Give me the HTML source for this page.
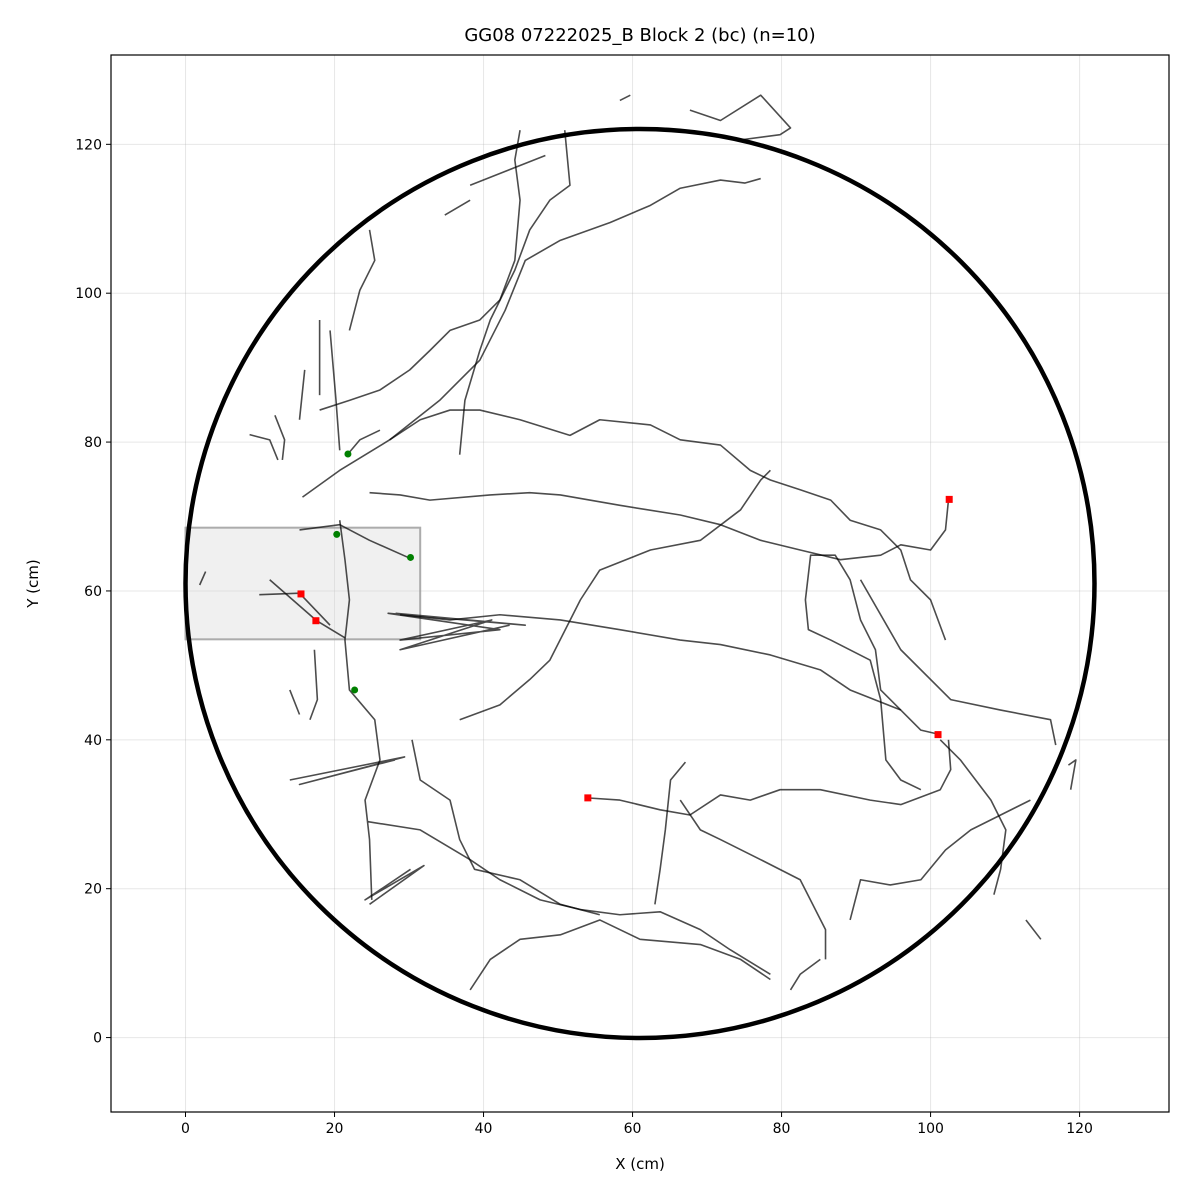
<!DOCTYPE html>
<html><head><meta charset="utf-8"><style>
html,body{margin:0;padding:0;background:#fff;}
svg{display:block;font-family:"DejaVu Sans","Liberation Sans",sans-serif;}
</style></head><body>
<svg id="chart" width="1200" height="1200" viewBox="0 0 1200 1200"></svg>
<script>
const xTicks=[0,20,40,60,80,100,120];
const yTicks=[0,20,40,60,80,100,120];
const arena={cx:61,cy:61,r:61};
const zone={x0:0,x1:31.5,y0:53.5,y1:68.5};
const startPoints=[[21.8,78.4],[20.3,67.6],[30.2,64.5],[22.7,46.7]];
const endPoints=[[15.5,59.6],[17.5,56],[54,32.2],[101,40.7],[102.5,72.3]];
const tracks=[
[[15.7,72.6],[20.7,76.2],[27.4,80.3],[34.1,85.6],[39.5,91],[42.9,97.7],[45.6,104.4],[50.3,107.1],[57,109.5],[62.4,111.8],[66.4,114.1],[71.8,115.2],[75.1,114.8],[77.2,115.4]],
[[18,84.3],[22,85.6],[26.1,87],[30.1,89.7],[32.8,92.3],[35.5,95],[39.5,96.4],[42.2,99.1],[44.2,104.4],[44.9,112.5],[44.2,117.9],[44.9,121.9]],
[[36.8,78.3],[37.5,85.6],[39.5,92.3],[40.9,96.4],[44.2,103.1],[46.2,108.5],[48.9,112.5],[51.6,114.5],[50.9,121.9]],
[[27.4,80.3],[31.5,83],[35.5,84.3],[39.5,84.3],[44.9,83],[51.6,80.9],[55.6,83],[62.4,82.3],[66.4,80.3],[71.8,79.6],[75.8,76.2],[78.5,74.9],[82.5,73.6],[86.6,72.2],[89.2,69.5],[93.3,68.2],[96,65.5],[97.3,61.5],[100,58.8],[102,53.4]],
[[24.7,73.2],[28.8,72.9],[32.8,72.2],[40.9,72.9],[46.2,73.2],[50.3,72.9],[58.3,71.5],[66.4,70.2],[71.8,68.9],[77.2,66.8],[82.5,65.5],[87.9,64.2],[93.3,64.8],[96,66.2],[100,65.5],[102,68.2],[102.4,72.2]],
[[28.8,56.8],[35.5,56.1],[42.2,56.8],[50.3,56.1],[58.3,54.8],[66.4,53.4],[71.8,52.8],[78.5,51.4],[85.2,49.4],[89.2,46.7],[96,44],[98.7,41.3],[101.3,40.7]],
[[36.8,42.7],[42.2,44.7],[46.2,48.1],[48.9,50.7],[53,58.8],[55.6,62.8],[62.4,65.5],[69.1,66.8],[74.5,70.9],[77.2,74.9],[78.5,76.2]],
[[53.9,32.2],[58.3,31.9],[63.7,30.6],[67.7,29.9],[71.8,32.6],[75.8,31.9],[79.8,33.3],[85.2,33.3],[91.9,31.9],[96,31.3],[101.3,33.3],[102.7,36],[102.4,40]],
[[66.4,31.9],[69.1,27.9],[71.8,26.6],[77.2,23.9],[82.5,21.2],[85.9,14.5],[85.9,10.5]],
[[67.1,37],[65.1,34.6],[64.4,27.9],[63.7,22.6],[63,17.9]],
[[20.7,69.5],[21.4,64.2],[22,58.8],[21.4,53.4],[22,46.7],[25.4,42.7],[26.1,37.3],[24.1,31.9],[24.7,26.6],[25,18.5]],
[[24.5,29],[31.5,27.9],[38.2,23.9],[42.2,21.2],[47.6,18.5],[53,17.2],[58.3,16.5],[63.7,16.9],[69.1,14.5],[73.1,11.8],[78.5,8.5]],
[[30.4,40],[31.5,34.6],[35.5,31.9],[36.8,26.6],[38.8,22.6],[44.9,21.2],[50.3,17.9],[55.6,16.5]],
[[38.2,6.4],[40.9,10.5],[44.9,13.2],[50.3,13.8],[55.6,15.8],[61,13.2],[69.1,12.5],[74.5,10.5],[78.5,7.8]],
[[85.2,10.5],[82.5,8.5],[81.2,6.4]],
[[101.3,40],[104,37.3],[108.1,31.9],[110.1,27.9],[109.4,22.6],[108.5,19.2]],
[[96,44],[93.3,46.7],[92.6,52.1],[90.6,56.1],[89.2,61.5],[87.2,64.8],[83.9,64.8],[83.2,58.8],[83.6,54.8],[86.6,53.4],[91.9,50.7],[93.3,45.4],[94,37.3],[96,34.6],[98.7,33.3]],
[[90.6,61.5],[96,52.1],[102.7,45.4],[109.4,44],[116.1,42.7],[116.8,39.3]],
[[89.2,15.8],[90.6,21.2],[94.6,20.5],[98.7,21.2],[102,25.2],[105.4,27.9],[113.4,31.9]],
[[67.7,124.6],[71.8,123.2],[77.2,126.6],[81.2,122.2],[79.8,121.3],[74.5,120.6]],
[[24.7,108.5],[25.4,104.4],[23.4,100.4],[22,95]],
[[19.4,95],[20.2,85.6],[20.7,78.9]],
[[18,96.4],[18,86.3]],
[[21.8,78.4],[23.4,80.3],[26.1,81.6]],
[[15.3,68.2],[20.7,68.9],[24.7,66.8],[30.1,64.4]],
[[11.3,61.5],[17.6,56],[21.4,53.7]],
[[9.9,59.5],[15.3,59.7],[19.4,55.4]],
[[28.2,57],[45.6,55.4],[27.2,57],[42.2,54.8],[28.8,53.4],[41.1,56.1],[28.8,52.1],[43.5,55.4]],
[[14,34.6],[29.4,37.7],[15.3,34],[28.1,37.3]],
[[24.7,17.9],[32,23.1],[24.1,18.5],[30.2,22.6]],
[[112.8,15.8],[114.8,13.2]],
[[118.5,36.6],[119.5,37.3],[118.8,33.3]],
[[12,83.6],[13.3,80.3],[13,77.6]],
[[16,89.7],[15.3,83]],
[[8.6,81],[11.3,80.3],[12.4,77.6]],
[[17.3,52.1],[17.7,45.4],[16.7,42.7]],
[[14,46.7],[15.3,43.4]],
[[2.7,62.6],[1.9,60.8]],
[[58.3,125.9],[59.7,126.6]],
[[38.2,114.5],[48.3,118.5]],
[[34.8,110.5],[38.2,112.5]]
];
const L=111,R=1169,T=55,B=1112,min=-10,max=132;
const sx=v=>L+(v-min)/(max-min)*(R-L);
const sy=v=>B-(v-min)/(max-min)*(B-T);
const NS="http://www.w3.org/2000/svg";
const svg=document.getElementById('chart');
function mk(t,a,p){const e=document.createElementNS(NS,t);for(const k in a)e.setAttribute(k,a[k]);(p||svg).appendChild(e);return e;}
xTicks.forEach(v=>{const e=mk('line',{x1:sx(v),x2:sx(v),y1:T,y2:B,stroke:'#b0b0b0','stroke-opacity':0.3,'stroke-width':1});

});
yTicks.forEach(v=>{const e=mk('line',{x1:L,x2:R,y1:sy(v),y2:sy(v),stroke:'#b0b0b0','stroke-opacity':0.3,'stroke-width':1});

});
const z=mk('rect',{x:sx(zone.x0),y:sy(zone.y1),width:sx(zone.x1)-sx(zone.x0),height:sy(zone.y0)-sy(zone.y1),fill:'#d3d3d3','fill-opacity':0.35,stroke:'#999','stroke-width':2,'stroke-opacity':0.8});


tracks.forEach(t=>{const p=mk('polyline',{points:t.map(q=>sx(q[0])+','+sy(q[1])).join(' '),fill:'none',stroke:'#000','stroke-opacity':0.7,'stroke-width':1.6,'stroke-linejoin':'round'});

});
const c=mk('circle',{cx:sx(arena.cx),cy:sy(arena.cy),r:sx(arena.r)-sx(0),fill:'none',stroke:'#000','stroke-width':4.5});


startPoints.forEach(p=>{const e=mk('circle',{cx:sx(p[0]),cy:sy(p[1]),r:3.5,fill:'#008000'});

});
endPoints.forEach(p=>{const e=mk('rect',{x:sx(p[0])-3.5,y:sy(p[1])-3.5,width:7,height:7,fill:'#ff0000'});

});
const f=mk('rect',{x:L,y:T,width:R-L,height:B-T,fill:'none',stroke:'#000','stroke-width':1.2});


xTicks.forEach(v=>{mk('line',{x1:sx(v),x2:sx(v),y1:B,y2:B+5,stroke:'#000'});
const t=mk('text',{x:sx(v),y:B+21,'text-anchor':'middle','font-size':14});t.textContent=v;

});
yTicks.forEach(v=>{mk('line',{x1:L-5,x2:L,y1:sy(v),y2:sy(v),stroke:'#000'});
const t=mk('text',{x:L-9,y:sy(v)+5,'text-anchor':'end','font-size':14});t.textContent=v;

});
const xt=mk('text',{x:(L+R)/2,y:1169,'text-anchor':'middle','font-size':15});xt.textContent='X (cm)';


const yt=mk('text',{x:38,y:(T+B)/2,'text-anchor':'middle','font-size':15,transform:'rotate(-90 38 '+((T+B)/2)+')'});yt.textContent='Y (cm)';


const tt=mk('text',{x:(L+R)/2,y:41,'text-anchor':'middle','font-size':18});tt.textContent='GG08 07222025_B Block 2 (bc) (n=10)';


</script>
</body></html>
